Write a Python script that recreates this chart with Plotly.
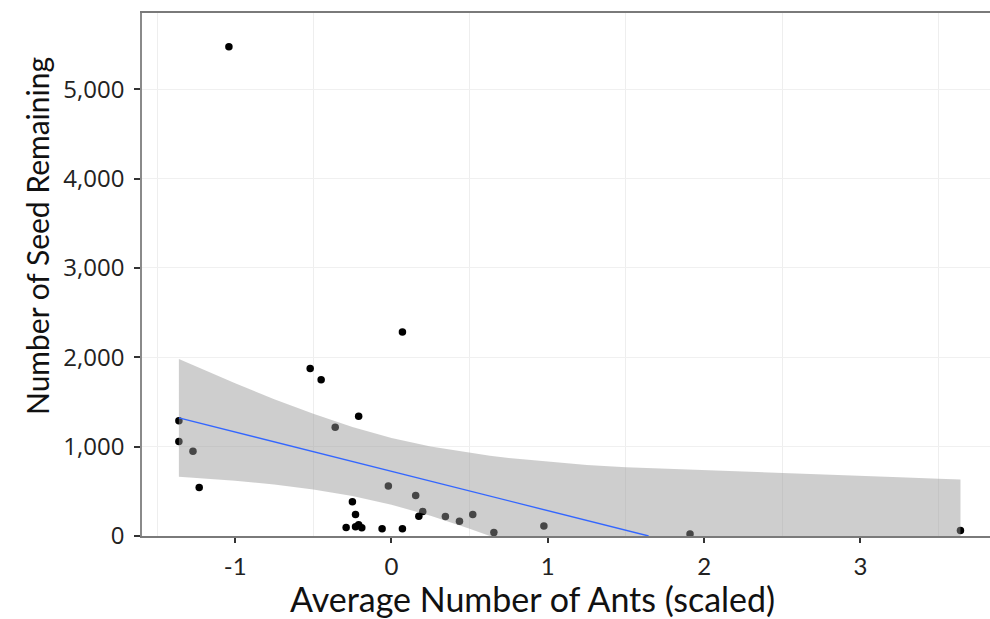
import plotly.graph_objects as go

# Scaled ant abundance and seeds remaining per station
ants = [-1.04, -1.36, -1.36, -1.27, -1.23, -0.52, -0.45, 0.07, -0.21, -0.36,
        -0.02, -0.25, -0.23, -0.29, -0.23, -0.21, -0.19, -0.06, 0.07, 0.155,
        0.175, 0.20, 0.345, 0.435, 0.52, 0.655, 0.975, 1.91, 3.64]
seeds = [5475, 1291, 1057, 948, 542, 1876, 1750, 2283, 1340, 1216,
         559, 382, 240, 95, 103, 125, 93, 80, 80, 454,
         220, 275, 218, 165, 240, 39, 112, 22, 62]

# Linear fit (ends where it meets zero)
fit_ants = [-1.36, 1.645]
fit_seeds = [1322, 0]

# Confidence band of the fit
band_ants = [-1.36, -1.25, -1.0, -0.75, -0.5, -0.25, 0.0, 0.25, 0.5, 0.63, 0.75,
             1.0, 1.25, 1.5, 1.75, 2.0, 2.25, 2.5, 2.75, 3.0, 3.25, 3.5, 3.64]
band_upper = [1980, 1896, 1710, 1532, 1367, 1221, 1098, 1001, 927, 897, 872,
              830, 796, 770, 755, 738, 720, 705, 688, 672, 657, 641, 632]
band_lower = [664, 652, 618, 576, 521, 447, 350, 227, 81, 0, 0,
              0, 0, 0, 0, 0, 0, 0, 0, 0, 0, 0, 0]

x_ticks = [-1, 0, 1, 2, 3]
x_tick_text = ["-1", "0", "1", "2", "3"]
x_grid = [-1.5, -0.5, 0.5, 1.5, 2.5, 3.5]
y_ticks = [0, 1000, 2000, 3000, 4000, 5000]
y_tick_text = ["0", "1,000", "2,000", "3,000", "4,000", "5,000"]

W, H = 990, 619
L, R, T, B = 142, 0, 13, 83
plot_w = W - L - R
plot_h = H - T - B

fig = go.Figure()

fig.add_trace(go.Scatter(
    x=ants, y=seeds, mode="markers",
    marker=dict(color="black", size=7.5, line=dict(width=0)),
    hoverinfo="skip", showlegend=False,
))

fig.add_trace(go.Scatter(
    x=band_ants + band_ants[::-1],
    y=band_upper + band_lower[::-1],
    mode="lines", fill="toself",
    fillcolor="rgba(150,150,150,0.47)",
    line=dict(width=0), hoverinfo="skip", showlegend=False,
))

fig.add_trace(go.Scatter(
    x=fit_ants, y=fit_seeds, mode="lines",
    line=dict(color="#3366FF", width=1.4),
    hoverinfo="skip", showlegend=False,
))

fig.update_layout(
    width=W, height=H,
    margin=dict(l=L, r=R, t=T, b=B, pad=0),
    paper_bgcolor="white", plot_bgcolor="white",
    xaxis=dict(
        range=[-1.596, 3.829],
        tickvals=x_ticks, ticktext=x_tick_text,
        showgrid=False, zeroline=False,
        minor=dict(tickvals=x_grid, showgrid=True, gridcolor="#eeeeee",
                   gridwidth=1, ticks=""),
        showline=True, linecolor="#7a7a7a", linewidth=2, mirror=True,
        ticks="outside", ticklen=5, tickwidth=1.5, tickcolor="#333333",
        tickfont=dict(family="Lato", size=24, color="#222222"),
        ticklabelstandoff=3,
    ),
    yaxis=dict(
        range=[0, 5854],
        tickvals=y_ticks, ticktext=y_tick_text,
        showgrid=True, gridcolor="#f0f0f0", gridwidth=1, zeroline=False,
        showline=True, linecolor="#8a8a8a", linewidth=1.5, mirror=False,
        ticks="outside", ticklen=6, tickwidth=1.5, tickcolor="#333333",
        tickfont=dict(family="Open Sans", size=24, color="#222222"),
        ticklabelstandoff=5,
    ),
    annotations=[
        dict(text="Number of Seed Remaining", xref="paper", yref="paper",
             x=(37 - L) / plot_w, y=(H - B - 236) / plot_h,
             xanchor="center", yanchor="middle", textangle=-90, showarrow=False,
             font=dict(family="Lato", size=30, color="#111111")),
        dict(text="Average Number of Ants (scaled)", xref="paper", yref="paper",
             x=(532 - L) / plot_w, y=(H - B - 598) / plot_h,
             xanchor="center", yanchor="middle", showarrow=False,
             font=dict(family="Lato", size=34, color="#111111")),
    ],
)

fig.write_html("out.html")
